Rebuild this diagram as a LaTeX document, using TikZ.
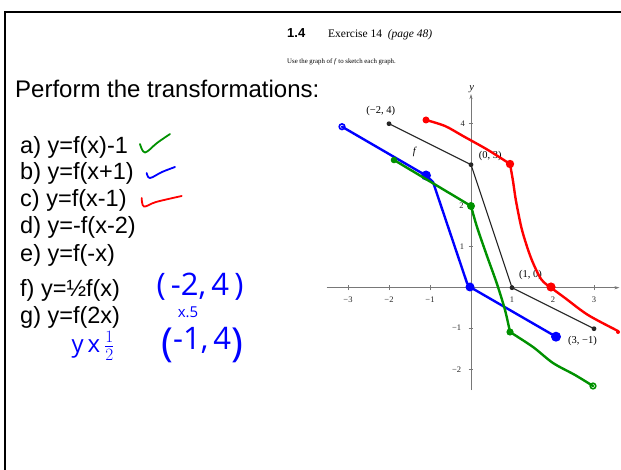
\documentclass[tikz,border=0pt]{standalone}
\usepackage{fontspec}
\setmainfont{Liberation Serif}
\setsansfont{Liberation Sans}
\newfontfamily\handfont{Open Sans}
\usetikzlibrary{arrows.meta}
\definecolor{hred}{RGB}{255,0,0}
\definecolor{hblue}{RGB}{0,0,255}
\definecolor{hgreen}{RGB}{0,145,0}
\definecolor{axisgray}{RGB}{120,120,120}
\newcommand{\bigpar}[1]{\raisebox{-7pt}{\fontsize{40}{40}\selectfont #1}}
\begin{document}
\begin{tikzpicture}[x=1pt,y=-1pt,
  hand/.style={line width=2.4pt,line cap=round,line join=round},
  item/.style={font=\sffamily\fontsize{23.5}{26}\selectfont, anchor=base west, inner sep=0pt},
  hw/.style={font=\handfont, text=hblue, inner sep=0pt},
  tlab/.style={font=\fontsize{8.5}{10}\selectfont, inner sep=0pt, text=black!85},
  plab/.style={font=\fontsize{10.5}{12}\selectfont, inner sep=0pt},
  axisline/.style={axisgray, line width=0.6pt},
  fline/.style={black!85, line width=1.1pt},
]
\useasboundingbox (0,0) rectangle (621,470);
\fill[white] (0,0) rectangle (621,470);
% frame
\coordinate (fb) at (5,471);
\coordinate (fc) at (5,12);
\coordinate (fr) at (622,12);
\draw[line width=2.2pt] (fb) -- (fc) -- (fr);

% header
\node[font=\sffamily\bfseries\fontsize{13}{15}\selectfont, anchor=base west, inner sep=0pt] (sec) at (287,38) {1.4};
\node[font=\fontsize{11.5}{13}\selectfont, anchor=base west, inner sep=0pt] (ex) at (328,38) {Exercise 14 \ \textit{(page 48)}};
\node[font=\fontsize{6.8}{9}\selectfont, anchor=base west, inner sep=0pt] (use) at (287,64) {Use the graph of \textit{f} to sketch each graph.};

% left text
\node[item, font=\sffamily\fontsize{24}{26}\selectfont] (perf) at (15,98) {Perform the transformations:};
\node[item] (ia) at (20,153.5) {a) y=f(x)-1};
\node[item] (ib) at (20,180) {b) y=f(x+1)};
\node[item] (ic) at (20,206.7) {c) y=f(x-1)};
\node[item] (id) at (20,234) {d) y=-f(x-2)};
\node[item] (ie) at (20,262) {e) y=f(-x)};
\node[item] (if) at (20,296.5) {f) y=½f(x)};
\node[item] (ig) at (20,323.5) {g) y=f(2x)};

% check marks
\draw[hand, hgreen, line width=1.8pt] plot[smooth, tension=0.6] coordinates {(140,144) (145,152.5) (157,143) (170,134)};
\draw[hand, hblue, line width=1.8pt] plot[smooth, tension=0.6] coordinates {(146.7,173) (150,178) (162,172) (175,167)};
\draw[hand, hred, line width=1.8pt] plot[smooth, tension=0.6] coordinates {(141.7,198) (144,206.5) (156,202) (181.7,196)};

% handwriting
\node[hw, font=\handfont\fontsize{31}{31}\selectfont, anchor=base, text depth=2pt] (h1) at (200,295) {(\,-2,\,4\,)};
\node[hw, font=\handfont\fontsize{15}{15}\selectfont, anchor=base, text height=8pt] (h2) at (188,317) {x.5};
\node[hw, font=\handfont\fontsize{31}{31}\selectfont, anchor=base west] (h3) at (161,349) {\bigpar{(}-1,\,4\bigpar{)}};
\node[hw, font=\handfont\fontsize{24}{24}\selectfont] (h4) at (93,346) {y\,x\,$\frac{1}{2}$};

% graph
\begin{scope}[shift={(471pt,-287.7pt)}, x=41pt, y=41pt]
  \coordinate (xl) at (-3.52,0);
  \coordinate (xr) at (3.62,0);
  \coordinate (yb) at (0,-2.5);
  \coordinate (yt) at (0,4.72);
  \draw[axisline, -{Stealth[length=5pt,width=3.2pt]}] (xl) -- (xr);
  \draw[axisline, -{Stealth[length=5pt,width=3.2pt]}] (yb) -- (yt);
  \foreach \i in {-3,-2,-1,1,2,3} \draw[axisline] (\i,-0.06) -- (\i,0.06);
  \foreach \i in {-2,-1,1,2,3,4} \draw[axisline] (-0.06,\i) -- (0.06,\i);
  \foreach \i/\t in {-3/−3,-2/−2,-1/−1,1/1,2/2,3/3} \node[tlab] (tx\i) at (\i,-0.3) {\t};
  \node[tlab] (ty4) at (-0.2,4) {4};
  \node[tlab] (ty2) at (-0.23,2) {2};
  \node[tlab] (ty1) at (-0.22,1) {1};
  \node[tlab] (tym1) at (-0.35,-0.98) {−1};
  \node[tlab] (tym2) at (-0.35,-2) {−2};
  \node[plab] (ylab) at (0.02,4.85) {\textit{y}};

  \coordinate (p1) at (-2,4);
  \coordinate (p2) at (0,3);
  \coordinate (p3) at (1,0);
  \coordinate (p4) at (3,-1);
  \draw[fline] (p1) -- (p2) -- (p3) -- (p4);
  \foreach \p in {p1,p2,p3,p4} \fill[black!85] (\p) circle (2.4pt);
  \node[plab] (l1) at (-2.2,4.32) {(−2, 4)};
  \node[plab] (l2) at (0.47,3.21) {(0, 3)};
  \node[plab] (l3) at (1.45,0.31) {(1, 0)};
  \node[plab] (l4) at (2.72,-1.29) {(3, −1)};
  \node[plab] (lf) at (-1.37,3.32) {\textit{f}};
\end{scope}

% red: f(x-1)
\draw[hand, hred] plot[smooth, tension=0.5] coordinates {(426,120) (445,126) (463,136) (488,150) (510,164)};
\draw[hand, hred] plot[smooth, tension=0.5] coordinates {(510,164) (513,181) (516,201) (522,230) (531,258) (541,279) (550,287)};
\draw[hand, hred] plot[smooth, tension=0.5] coordinates {(550,287) (565,298) (588,315) (618,331)};
\fill[hred] (426,120) circle (3.5pt);
\fill[hred] (510,164) circle (4.2pt);
\fill[hred] (551,287) circle (4.6pt);
\fill[hred] (618,332) circle (2pt);

% blue: f(x+1)
\coordinate (b1) at (342,126.7);
\coordinate (b2) at (426,175.5);
\coordinate (b3) at (433,182);
\coordinate (b4) at (467,283);
\coordinate (b5) at (470,287);
\coordinate (b6) at (556,336.7);
\draw[hand, hblue] (b1) -- (b2) -- (b3) -- (b4) -- (b5) -- (b6);
\draw[hblue, line width=1.6pt] (b1) circle (2.8pt);
\fill[hblue] (b2) circle (5pt);
\fill[hblue] (b5) circle (4.5pt);
\fill[hblue] (b6) circle (5pt);

% green: f(x)-1
\coordinate (g1) at (394,160);
\coordinate (g2) at (471,206);
\draw[hand, hgreen] (g1) -- (g2);
\draw[hand, hgreen] plot[smooth, tension=0.5] coordinates {(471,206) (477,227) (487,256) (497,284) (505,310) (510,332)};
\draw[hand, hgreen] plot[smooth, tension=0.5] coordinates {(510,332) (533,347) (553,363) (575,375) (593,386)};
\fill[hgreen] (g1) circle (3.3pt);
\fill[hgreen] (g2) circle (4pt);
\fill[hgreen] (510,332) circle (3.6pt);
\draw[hgreen, line width=1.6pt] (593,386) circle (2.8pt);
\end{tikzpicture}
\end{document}
